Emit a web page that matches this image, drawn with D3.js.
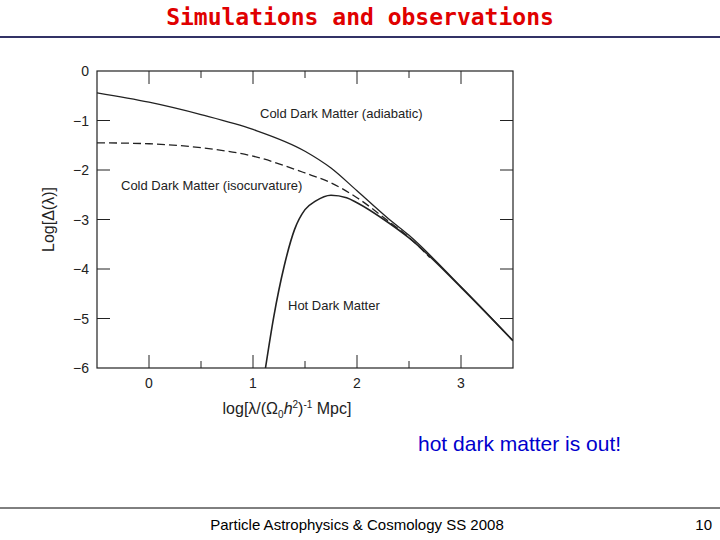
<!DOCTYPE html><html><head><meta charset="utf-8">
<script src="https://cdn.jsdelivr.net/npm/d3@7"></script>
<style>body{margin:0;background:#fff}</style></head><body>
<svg id="c" width="720" height="540"></svg>
<script>
const xTicks=[0,1,2,3];
const yTicks=[0,-1,-2,-3,-4,-5,-6];
const adiabatic=[[-0.5,-0.44],[0,-0.63],[0.5,-0.88],[1,-1.18],[1.5,-1.62],[1.75,-1.96],[2,-2.42],[2.3,-2.98],[2.5,-3.32],[3,-4.36],[3.5,-5.45]];
const isocurv=[[-0.5,-1.45],[0,-1.47],[0.5,-1.55],[1,-1.72],[1.5,-2.06],[1.75,-2.26],[2,-2.56],[2.3,-3.03],[2.5,-3.36],[2.7,-3.77]];
const hot=[[1.12,-6],[1.2,-4.96],[1.3,-3.94],[1.4,-3.2],[1.5,-2.8],[1.6,-2.63],[1.75,-2.51],[1.9,-2.56],[2,-2.66],[2.3,-3.06],[2.5,-3.37],[3,-4.37],[3.5,-5.45]];
const svg=d3.select("#c");
svg.append("text").attr("x",360).attr("y",25).attr("text-anchor","middle").attr("fill","#e00000")
 .attr("font-family","'Comic Sans MS','DejaVu Sans Mono'").attr("font-weight","bold").attr("font-size",23).text("Simulations and observations");
svg.append("line").attr("x1",0).attr("x2",720).attr("y1",37).attr("y2",37).attr("stroke","#333366").attr("stroke-width",2);
svg.append("line").attr("x1",0).attr("x2",720).attr("y1",508).attr("y2",508).attr("stroke","#000").attr("stroke-width",1);
svg.append("text").attr("x",357).attr("y",530).attr("text-anchor","middle").attr("font-family","Liberation Sans").attr("font-size",15).text("Particle Astrophysics & Cosmology SS 2008");
svg.append("text").attr("x",712).attr("y",530).attr("text-anchor","end").attr("font-family","Liberation Sans").attr("font-size",15).text("10");
svg.append("text").attr("x",418).attr("y",451).attr("fill","#0000cc").attr("font-family","Liberation Sans").attr("font-size",21).text("hot dark matter is out!");
const L=97,R=513,T=71,B=368;
const x=d3.scaleLinear().domain([-0.5,3.5]).range([L,R]);
const y=d3.scaleLinear().domain([0,-6]).range([T,B]);
const g=svg.append("g").attr("font-family","Liberation Sans").attr("fill","#222");
g.append("rect").attr("x",L).attr("y",T).attr("width",R-L).attr("height",B-T).attr("fill","none").attr("stroke","#222").attr("stroke-width",1.2);
const xt=d3.range(-0.5,3.51,0.5);
xt.forEach(v=>{const big=Number.isInteger(v);const l=big?13:7;
 if(v>-0.5&&v<3.5){g.append("line").attr("x1",x(v)).attr("x2",x(v)).attr("y1",B).attr("y2",B-l).attr("stroke","#222");
 g.append("line").attr("x1",x(v)).attr("x2",x(v)).attr("y1",T).attr("y2",T+l).attr("stroke","#222");}});
xTicks.forEach(v=>g.append("text").attr("x",x(v)).attr("y",B+20).attr("text-anchor","middle").attr("font-size",14).text(v));
yTicks.forEach(v=>{if(v<0&&v>-6){g.append("line").attr("x1",L).attr("x2",L+13).attr("y1",y(v)).attr("y2",y(v)).attr("stroke","#222");
 g.append("line").attr("x1",R).attr("x2",R-13).attr("y1",y(v)).attr("y2",y(v)).attr("stroke","#222");}
 g.append("text").attr("x",L-8).attr("y",y(v)+5).attr("text-anchor","end").attr("font-size",14).text(v===0?"0":"\u2212"+(-v));});
g.append("text").attr("transform",`translate(54,${(T+B)/2}) rotate(-90)`).attr("text-anchor","middle").attr("font-size",16).text("Log[\u0394(\u03bb)]");
const xl=g.append("text").attr("x",287).attr("y",414).attr("text-anchor","middle").attr("font-size",16);
xl.append("tspan").text("log[\u03bb/(\u03a9");xl.append("tspan").attr("font-size",10).attr("dy",4).text("0");
xl.append("tspan").attr("dy",-4).attr("font-style","italic").text("h");xl.append("tspan").attr("font-size",10).attr("dy",-6).text("2");
xl.append("tspan").attr("dy",6).text(")");xl.append("tspan").attr("font-size",10).attr("dy",-6).text("-1");xl.append("tspan").attr("dy",6).text(" Mpc]");
const line=d3.line().x(d=>x(d[0])).y(d=>y(d[1])).curve(d3.curveMonotoneX);
svg.append("clipPath").attr("id","cl").append("rect").attr("x",L).attr("y",T).attr("width",R-L).attr("height",B-T);
const lg=svg.append("g").attr("clip-path","url(#cl)");
lg.append("path").attr("d",line(adiabatic)).attr("fill","none").attr("stroke","#222").attr("stroke-width",1.3);
lg.append("path").attr("d",line(isocurv)).attr("fill","none").attr("stroke","#222").attr("stroke-width",1.3).attr("stroke-dasharray","8,4");
lg.append("path").attr("d",line(hot)).attr("fill","none").attr("stroke","#222").attr("stroke-width",1.6);
g.append("text").attr("x",260).attr("y",118).attr("font-size",13).text("Cold Dark Matter (adiabatic)");
g.append("text").attr("x",121).attr("y",190).attr("font-size",13).text("Cold Dark Matter (isocurvature)");
g.append("text").attr("x",288).attr("y",310).attr("font-size",13).text("Hot Dark Matter");
</script></body></html>
